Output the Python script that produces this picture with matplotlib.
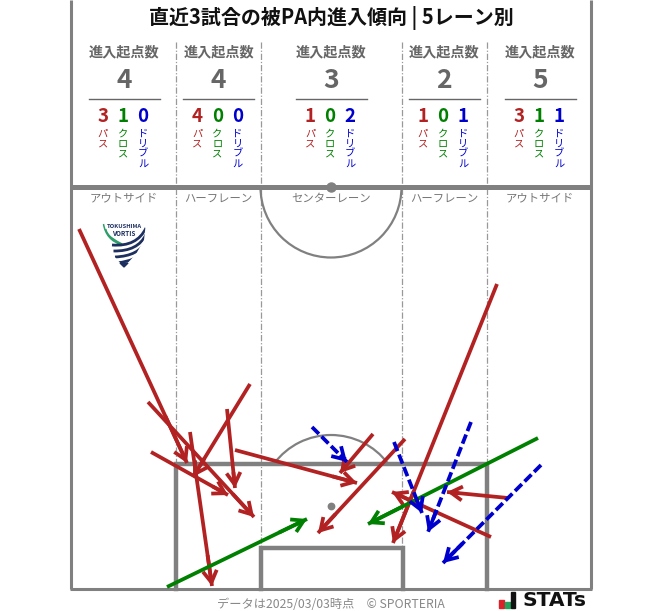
import matplotlib
matplotlib.use("Agg")
import matplotlib.pyplot as plt
from matplotlib.patches import Arc, Polygon, FancyArrowPatch, Rectangle, PathPatch
from matplotlib.path import Path

plt.rcParams['font.family'] = ['Noto Sans CJK JP', 'DejaVu Sans']

TITLE = "直近3試合の被PA内進入傾向 | 5レーン別"
lane_names = ["アウトサイド", "ハーフレーン", "センターレーン", "ハーフレーン", "アウトサイド"]
lane_centers = [124, 218.5, 331, 444, 540]
lane_totals = [4, 4, 3, 2, 5]
pass_counts = [3, 4, 1, 1, 3]
cross_counts = [1, 0, 0, 0, 1]
dribble_counts = [0, 0, 2, 1, 1]

# start x, start y, end x, end y
pass_arrows = [
    (79, 229, 187, 463), (148, 402, 254, 517), (151, 452, 228, 495),
    (190, 432, 212, 586), (250, 384, 193, 477), (227, 409, 235, 488),
    (235, 450, 357, 483), (373, 434, 340, 473), (405, 439, 318, 533),
    (497, 284, 393, 543), (491, 537, 392, 492), (508, 498, 447, 492),
]
cross_arrows = [(167, 587, 307, 519), (538, 438, 368, 524)]
dribble_arrows = [
    (312, 427, 347, 462), (394, 442, 422, 513),
    (471, 422, 428, 532), (541, 465, 443, 563),
]

RED, GREEN, BLUE = "#b22222", "#008000", "#0000cd"
GREY = "#808080"
TXT = "#666666"

fig = plt.figure(figsize=(6.63, 6.11), dpi=100)
ax = fig.add_axes([0, 0, 1, 1])
ax.set_xlim(0, 663)
ax.set_ylim(611, 0)
ax.axis("off")

# lane dividers
for x in (176, 261, 402, 487):
    ax.plot([x, x], [42, 589], color="#999999", lw=0.9, ls=(0, (5, 1.5, 1, 1.5)), zorder=1)

# pitch
ax.plot([71, 71], [0, 589], color=GREY, lw=2.2, zorder=2, solid_capstyle="butt")
ax.plot([591, 591], [0, 589], color=GREY, lw=2.2, zorder=2, solid_capstyle="butt")
ax.plot([70, 592], [589, 589], color=GREY, lw=2.2, zorder=2, solid_capstyle="butt")
ax.plot([71, 591], [187, 187], color=GREY, lw=3.6, zorder=2, solid_capstyle="butt")
ax.plot([176, 176, 487, 487], [589, 463.5, 463.5, 589], color=GREY, lw=3.2, zorder=2, solid_joinstyle="miter")
ax.plot([261, 261, 402.5, 402.5], [589, 548, 548, 589], color=GREY, lw=3.2, zorder=2, solid_joinstyle="miter")
ax.add_patch(Arc((331, 187), 141, 141, theta1=0, theta2=180, color=GREY, lw=1.6, zorder=2))
ax.add_patch(Arc((331, 506), 142, 142, theta1=217, theta2=323, color=GREY, lw=1.6, zorder=2))
ax.plot([331], [187], "o", color=GREY, ms=6.5, zorder=3)
ax.plot([331], [506], "o", color=GREY, ms=4.6, zorder=3)

# title
ax.text(331, 18, TITLE, ha="center", va="center", fontsize=14.4, fontweight="bold", color="#111111")


def vertical(x, y, s, color):
    for i, ch in enumerate(s):
        ax.text(x, y + i * 10, ch, ha="center", va="center", fontsize=7.4, color=color, zorder=4)


for i, cx in enumerate(lane_centers):
    ax.text(cx, 52, "進入起点数", ha="center", va="center", fontsize=10.2, fontweight="bold", color=TXT)
    ax.text(cx, 81, str(lane_totals[i]), ha="center", va="center", fontsize=19, fontweight="bold", color=TXT)
    ax.plot([cx - 35.5, cx + 35.5], [98.5, 98.5], color=TXT, lw=1.0)
    for dx, v, c, lab in ((-21, pass_counts[i], RED, "パス"),
                          (-1, cross_counts[i], GREEN, "クロス"),
                          (19, dribble_counts[i], BLUE, "ドリブル")):
        ax.text(cx + dx, 116, str(v), ha="center", va="center", fontsize=13.5, fontweight="bold", color=c)
        vertical(cx + dx, 134, lab, c)
    ax.text(cx, 198.5, lane_names[i], ha="center", va="center", fontsize=8.2, color="#777777")


def draw(arrows, color, ls="-"):
    for x0, y0, x1, y1 in arrows:
        ax.plot([x0, x1], [y0, y1], color=color, lw=2.7, ls=ls, zorder=5,
                dash_capstyle="butt", solid_capstyle="butt")
        ax.add_patch(FancyArrowPatch((x0 + (x1 - x0) * 0.8, y0 + (y1 - y0) * 0.8), (x1, y1),
                                     arrowstyle="->,head_length=4.2,head_width=2.5",
                                     mutation_scale=2.0, color=color, lw=2.7,
                                     shrinkA=0, shrinkB=0, zorder=5, capstyle="butt", joinstyle="miter"))


draw(pass_arrows, RED)
draw(cross_arrows, GREEN)
draw(dribble_arrows, BLUE, ls=(0, (2.6, 1.0)))

# team crest
NAVY = "#1d2f5f"
shield = Polygon([(102, 222), (104, 240), (112, 254), (124, 267), (136, 254), (144, 240), (146, 222)],
                 closed=True, fc="none", ec="none", zorder=1)
ax.add_patch(shield)
for k in range(3):
    p = PathPatch(Path([(103.5 + k * 2.2, 224 + k * 5), (106 + k * 2, 240 - k), (122, 245 - k * 0.5)],
                       [Path.MOVETO, Path.CURVE3, Path.CURVE3]),
                  fc="none", ec="#2e9e6b", lw=1.1, zorder=4)
    ax.add_patch(p)
    p.set_clip_path(shield)
for k in range(5):
    p = PathPatch(Path([(146, 228 + k * 6.5), (137 + k, 247 + k * 4.5), (112 + k * 1.5, 245 + k * 6)],
                       [Path.MOVETO, Path.CURVE3, Path.CURVE3]),
                  fc="none", ec=NAVY, lw=2.0, zorder=4)
    ax.add_patch(p)
    p.set_clip_path(shield)
ax.add_patch(Polygon([(120, 263), (124, 267), (128, 263)], color=NAVY, zorder=4))
ax.text(124, 226, "TOKUSHIMA", ha="center", va="center", fontsize=4.2, fontweight="bold", color=NAVY, zorder=5)
ax.text(124, 233, "VORTIS", ha="center", va="center", fontsize=4.6, fontweight="bold", color=NAVY, zorder=5)

# footer
ax.text(331, 604, "データは2025/03/03時点　© SPORTERIA", ha="center", va="center", fontsize=8.8, color="#888888")
for x, h, w, c in ((499, 8, 5, "#d8232a"), (505, 6, 5, "#22a45d"), (510.5, 16, 4.5, "#111111")):
    ax.add_patch(Rectangle((x, 608 - h), w, h, color=c, zorder=4))
ax.text(522, 600.5, "STATs", ha="left", va="center", fontsize=14.6, fontweight="bold", color="#111111",
        family=["DejaVu Sans"])

fig.savefig("out.png", dpi=100)
